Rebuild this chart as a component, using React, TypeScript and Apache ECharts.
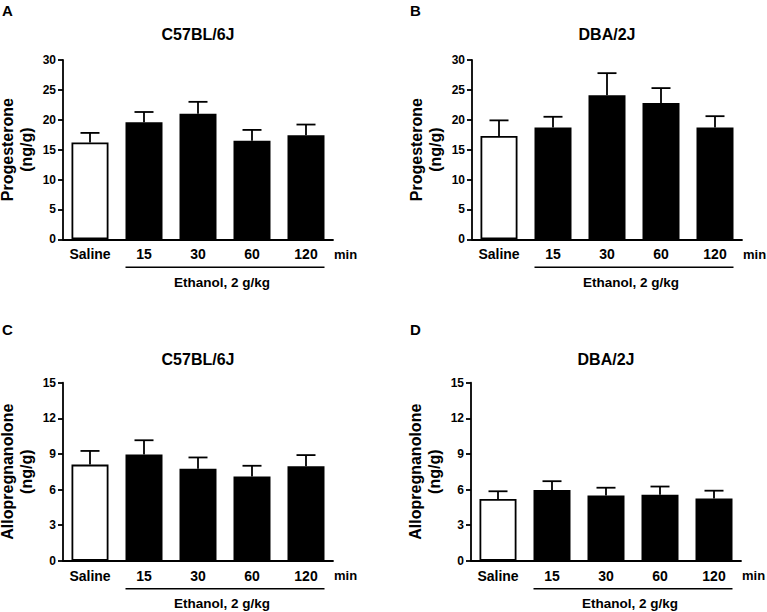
import React, { useEffect, useRef } from "react";
import * as echarts from "echarts";

const categories = ["Saline", "15", "30", "60", "120"];

const progC57Mean = [16.2, 19.6, 21.0, 16.5, 17.4];
const progC57Sem = [1.6, 1.7, 2.0, 1.8, 1.8];
const progDBAMean = [17.3, 18.7, 24.1, 22.8, 18.7];
const progDBASem = [2.6, 1.8, 3.7, 2.5, 1.9];
const alloC57Mean = [8.1, 8.95, 7.75, 7.1, 7.95];
const alloC57Sem = [1.15, 1.2, 0.95, 0.9, 0.95];
const alloDBAMean = [5.2, 5.95, 5.5, 5.55, 5.25];
const alloDBASem = [0.65, 0.75, 0.65, 0.7, 0.65];

const progTicks = { max: 30, interval: 5 };
const alloTicks = { max: 15, interval: 3 };

const panels = [
  { letter: "A", title: "C57BL/6J", yName: "Progesterone\n(ng/g)", mean: progC57Mean, sem: progC57Sem, ticks: progTicks },
  { letter: "B", title: "DBA/2J", yName: "Progesterone\n(ng/g)", mean: progDBAMean, sem: progDBASem, ticks: progTicks },
  { letter: "C", title: "C57BL/6J", yName: "Allopregnanolone\n(ng/g)", mean: alloC57Mean, sem: alloC57Sem, ticks: alloTicks },
  { letter: "D", title: "DBA/2J", yName: "Allopregnanolone\n(ng/g)", mean: alloDBAMean, sem: alloDBASem, ticks: alloTicks },
];

const FONT = "'Liberation Sans', Arial, Helvetica, sans-serif";
const LW = 1.8;

const gridBoxes = [
  { left: 63, top: 60, width: 270, height: 179.3 },
  { left: 472, top: 60, width: 270, height: 179.3 },
  { left: 63, top: 382.7, width: 270, height: 178 },
  { left: 471, top: 382.7, width: 270, height: 178 },
];
const titleY = [34, 34, 359, 359];
const letterY = [10, 10, 329, 329];

export default function App() {
  const ref = useRef<HTMLDivElement>(null);
  useEffect(() => {
    if (!ref.current) return;
    const chart = echarts.init(ref.current, null, { renderer: "svg" });
    const grid: any[] = [];
    const xAxis: any[] = [];
    const yAxis: any[] = [];
    const series: any[] = [];
    const graphic: any[] = [];

    panels.forEach((p, i) => {
      const g = gridBoxes[i];
      grid.push({ left: g.left, top: g.top, width: g.width, height: g.height, containLabel: false });
      xAxis.push({
        type: "category",
        gridIndex: i,
        data: categories,
        axisLine: { lineStyle: { color: "#000", width: LW } },
        axisTick: { show: false },
        axisLabel: { color: "#000", fontFamily: FONT, fontWeight: "bold", fontSize: 14, margin: 8 },
        splitLine: { show: false },
      });
      yAxis.push({
        type: "value",
        gridIndex: i,
        min: 0,
        max: p.ticks.max,
        interval: p.ticks.interval,
        axisLine: { show: true, lineStyle: { color: "#000", width: LW } },
        axisTick: { show: true, length: 5, lineStyle: { color: "#000", width: LW } },
        axisLabel: { color: "#000", fontFamily: FONT, fontWeight: "bold", fontSize: 12, margin: 7 },
        splitLine: { show: false },
      });
      series.push({
        type: "bar",
        xAxisIndex: i,
        yAxisIndex: i,
        barWidth: 37,
        data: p.mean.map((v, k) => ({
          value: v,
          itemStyle: { color: k === 0 ? "#fff" : "#000", borderColor: "#000", borderWidth: LW },
        })),
        z: 2,
      });
      series.push({
        type: "custom",
        xAxisIndex: i,
        yAxisIndex: i,
        z: 3,
        encode: { x: 0, y: 1 },
        data: p.mean.map((v, k) => [k, v, p.sem[k]]),
        renderItem: (params: any, api: any) => {
          const x = api.value(0);
          const m = api.value(1);
          const e = api.value(2);
          const p0 = api.coord([x, m]);
          const p1 = api.coord([x, m + e]);
          const half = 9.5;
          return {
            type: "group",
            children: [
              { type: "line", shape: { x1: p0[0], y1: p0[1], x2: p1[0], y2: p1[1] }, style: { stroke: "#000", lineWidth: LW } },
              { type: "line", shape: { x1: p1[0] - half, y1: p1[1], x2: p1[0] + half, y2: p1[1] }, style: { stroke: "#000", lineWidth: LW } },
            ],
          };
        },
      });

      const bottom = g.top + g.height;
      const band = g.width / categories.length;
      graphic.push({
        type: "text",
        x: i % 2 === 0 ? 2 : 410,
        y: letterY[i],
        style: { text: p.letter, font: `bold 15px ${FONT}`, fill: "#000", align: "left", verticalAlign: "middle" },
      });
      graphic.push({
        type: "text",
        x: g.left + g.width / 2,
        y: titleY[i],
        style: { text: p.title, font: `bold 16px ${FONT}`, fill: "#000", align: "center", verticalAlign: "middle" },
      });
      graphic.push({
        type: "text",
        x: g.left - 46,
        y: g.top + g.height / 2,
        rotation: Math.PI / 2,
        style: {
          text: p.yName,
          font: `bold 16px ${FONT}`,
          fill: "#000",
          align: "center",
          verticalAlign: "middle",
          lineHeight: 19,
        },
      });
      graphic.push({
        type: "text",
        x: g.left + g.width + 1,
        y: bottom + 15,
        style: { text: "min", font: `bold 13px ${FONT}`, fill: "#000", align: "left", verticalAlign: "middle" },
      });
      const x1 = g.left + band + (band - 37) / 2;
      const x2 = g.left + g.width - (band - 37) / 2;
      graphic.push({
        type: "line",
        shape: { x1, y1: bottom + 28, x2, y2: bottom + 28 },
        style: { stroke: "#000", lineWidth: 1.5 },
      });
      graphic.push({
        type: "text",
        x: (x1 + x2) / 2 - 3,
        y: bottom + 43,
        style: { text: "Ethanol, 2 g/kg", font: `bold 13.5px ${FONT}`, fill: "#000", align: "center", verticalAlign: "middle" },
      });
    });

    chart.setOption({
      animation: false,
      backgroundColor: "#fff",
      grid,
      xAxis,
      yAxis,
      series,
      graphic: { elements: graphic },
    });
    return () => chart.dispose();
  }, []);
  return (
    <div
      ref={ref}
      style={{ position: "absolute", left: 0, top: 0, width: 767, height: 612, background: "#fff" }}
    />
  );
}
